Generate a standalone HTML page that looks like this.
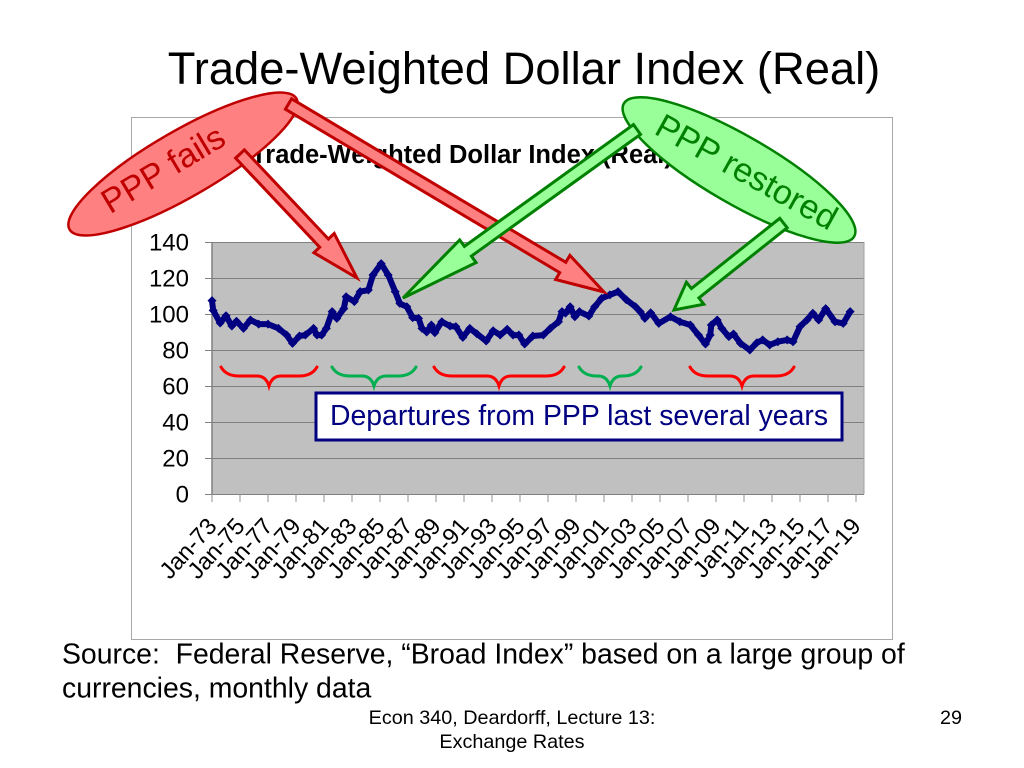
<!DOCTYPE html>
<html>
<head>
<meta charset="utf-8">
<title>Trade-Weighted Dollar Index (Real)</title>
<style>
html,body{margin:0;padding:0;background:#fff;}
svg{display:block;}
text{font-family:"Liberation Sans",sans-serif;}
</style>
</head>
<body>
<svg id="slide" width="1024" height="768" viewBox="0 0 1024 768">
  <text x="524" y="84" font-size="45.3" text-anchor="middle" fill="#000">Trade-Weighted Dollar Index (Real)</text>
  <rect x="131.5" y="117.5" width="761" height="522" fill="#fff" stroke="#a8a8a8"/>
  <text x="462" y="163" font-size="25.5" font-weight="bold" text-anchor="middle" fill="#000">Trade-Weighted Dollar Index (Real)</text>
  <g id="chart"></g>

  <g fill="none" stroke-width="3" stroke-linecap="round">
    <path id="brace-a" stroke="#ff0000"/>
    <path id="brace-b" stroke="#00b050"/>
    <path id="brace-c" stroke="#ff0000"/>
    <path id="brace-d" stroke="#00b050"/>
    <path id="brace-e" stroke="#ff0000"/>
  </g>

  <rect x="316" y="393" width="526" height="47" fill="#fff" stroke="#000080" stroke-width="3"/>
  <text x="579" y="425" font-size="28.4" text-anchor="middle" fill="#000080">Departures from PPP last several years</text>

  <ellipse cx="183" cy="164" rx="131" ry="33" transform="rotate(-30 183 164)" fill="#ff8080" stroke="#c00000" stroke-width="2.5"/>
  <text x="169" y="179" font-size="34" text-anchor="middle" fill="#c00000" transform="rotate(-31 169 179)">PPP fails</text>
  <ellipse cx="739" cy="170" rx="133" ry="34" transform="rotate(30 739 170)" fill="#99ff99" stroke="#008000" stroke-width="2.5"/>
  <text x="741" y="182" font-size="34" text-anchor="middle" fill="#008000" transform="rotate(29 741 182)">PPP restored</text>

  <polygon id="arrow-red-1" fill="#ff8080" stroke="#c00000" stroke-width="3"/>
  <polygon id="arrow-red-2" fill="#ff8080" stroke="#c00000" stroke-width="3"/>
  <polygon id="arrow-green-1" fill="#99ff99" stroke="#008000" stroke-width="3"/>
  <polygon id="arrow-green-2" fill="#99ff99" stroke="#008000" stroke-width="3"/>

  <text x="62" y="663.5" font-size="28.4" fill="#000" style="white-space:pre">Source:  Federal Reserve, “Broad Index” based on a large group of</text>
  <text x="62" y="697.5" font-size="28.4" fill="#000">currencies, monthly data</text>
  <text x="512" y="724" font-size="19.8" text-anchor="middle" fill="#000">Econ 340, Deardorff, Lecture 13:</text>
  <text x="512" y="748" font-size="19.8" text-anchor="middle" fill="#000">Exchange Rates</text>
  <text x="951" y="724" font-size="19.8" text-anchor="middle" fill="#000">29</text>
</svg>
<script>
var yTicks = [0, 20, 40, 60, 80, 100, 120, 140];
var xTickLabels = ["Jan-73","Jan-75","Jan-77","Jan-79","Jan-81","Jan-83","Jan-85","Jan-87","Jan-89","Jan-91","Jan-93","Jan-95","Jan-97","Jan-99","Jan-01","Jan-03","Jan-05","Jan-07","Jan-09","Jan-11","Jan-13","Jan-15","Jan-17","Jan-19"];
var monthsSince1973 = [0,1,7,12,17,21,27,33,40,48,57,64,69,75,80,87,90,94,98,103,107,113,115,122,127,134,138,145,151,157,161,167,172,177,180,184,188,191,197,204,209,215,221,227,235,241,247,253,258,263,268,275,284,290,297,300,303,307,311,315,323,328,334,341,348,355,363,367,371,376,383,393,401,410,417,423,427,428,433,437,443,447,453,461,467,472,478,485,493,498,504,510,515,520,526,534,541,547];
var indexValues = [107.4,102,95,99,93.3,96,92,96.7,94.4,94.4,92,88.3,83.7,87.8,88.3,92,88.3,88.3,92,101.3,97.6,103,109.6,106.9,112.4,113.3,121.7,128,121.7,112.4,105.9,104,98,97.6,92,90,93.9,89.6,95.7,93.3,93,87,92,89,85,90.7,88.3,91.5,88.3,88.3,83.3,87.8,88.3,92,95.7,101.3,100.5,104,98.5,101.3,98.9,104,108.7,110.6,112.4,108,104,101.3,97.6,100.7,94.8,98.5,95.7,93.9,88.3,83.3,88.3,93.9,96.7,92,87.4,88.9,83.7,80,84,85.6,82.8,84.6,85.6,84.6,93,96.7,100.4,96.7,103,95.7,94.8,101.3];

var NS = "http://www.w3.org/2000/svg";
var chart = document.getElementById("chart");
var plotLeft = 212, plotRight = 864, plotTop = 242, plotBottom = 494;
function xScale(month){ return plotLeft + month * (644 / 552); }
function yScale(v){ return plotBottom - v * (plotBottom - plotTop) / 140; }

var plotBg = document.createElementNS(NS, "rect");


plotBg.setAttribute("x", plotLeft);
plotBg.setAttribute("y", plotTop);
plotBg.setAttribute("width", plotRight - plotLeft);
plotBg.setAttribute("height", plotBottom - plotTop);
plotBg.setAttribute("fill", "#c0c0c0");
chart.appendChild(plotBg);

yTicks.forEach(function(t){
  var yy = Math.round(yScale(t)) + 0.5;
  var grid = document.createElementNS(NS, "line");
  
  
  grid.setAttribute("x1", 205);
  grid.setAttribute("x2", plotRight);
  grid.setAttribute("y1", yy);
  grid.setAttribute("y2", yy);
  grid.setAttribute("stroke", "#808080");
  chart.appendChild(grid);
  var label = document.createElementNS(NS, "text");
  
  
  label.setAttribute("x", 189);
  label.setAttribute("y", yy + 8);
  label.setAttribute("font-size", "24");
  label.setAttribute("text-anchor", "end");
  label.textContent = t;
  chart.appendChild(label);
});

var yAxis = document.createElementNS(NS, "line");


yAxis.setAttribute("x1", plotLeft);
yAxis.setAttribute("x2", plotLeft);
yAxis.setAttribute("y1", plotTop);
yAxis.setAttribute("y2", plotBottom);
yAxis.setAttribute("stroke", "#808080");
yAxis.setAttribute("stroke-width", "1.5");
chart.appendChild(yAxis);

var rightEdge = document.createElementNS(NS, "line");


rightEdge.setAttribute("x1", plotRight);
rightEdge.setAttribute("x2", plotRight);
rightEdge.setAttribute("y1", plotTop);
rightEdge.setAttribute("y2", plotBottom);
rightEdge.setAttribute("stroke", "#a0a0a0");
chart.appendChild(rightEdge);

xTickLabels.forEach(function(name, i){
  var xx = xScale(i * 24);
  var tick = document.createElementNS(NS, "line");
  
  
  tick.setAttribute("x1", xx);
  tick.setAttribute("x2", xx);
  tick.setAttribute("y1", plotBottom);
  tick.setAttribute("y2", 502);
  tick.setAttribute("stroke", "#909090");
  chart.appendChild(tick);
  var label = document.createElementNS(NS, "text");
  
  
  var ax = xx + 6, ay = 527;
  label.setAttribute("x", ax);
  label.setAttribute("y", ay);
  label.setAttribute("font-size", "23.5");
  label.setAttribute("text-anchor", "end");
  label.setAttribute("transform", "rotate(-48 " + ax + " " + ay + ")");
  label.textContent = name;
  chart.appendChild(label);
});

var pts = monthsSince1973.map(function(m, i){
  return xScale(m).toFixed(1) + "," + yScale(indexValues[i]).toFixed(1);
}).join(" ");
var line = document.createElementNS(NS, "polyline");


line.setAttribute("points", pts);
line.setAttribute("fill", "none");
line.setAttribute("stroke", "#000080");
line.setAttribute("stroke-width", "6");
line.setAttribute("stroke-linejoin", "round");
chart.appendChild(line);

monthsSince1973.forEach(function(m, i){
  var cx = xScale(m), cy = yScale(indexValues[i]), r = 4.5;
  var d = document.createElementNS(NS, "polygon");
  
  
  d.setAttribute("points", cx + "," + (cy - r) + " " + (cx + r) + "," + cy + " " + cx + "," + (cy + r) + " " + (cx - r) + "," + cy);
  d.setAttribute("fill", "#000080");
  chart.appendChild(d);
});

function brace(id, l, c, r){
  var top = 367, mid = 376, tip = 386;
  var d = "M" + l + " " + top + " Q" + (l + 5) + " " + mid + " " + (l + 18) + " " + mid +
    " L" + (c - 12) + " " + mid + " Q" + (c - 3) + " " + mid + " " + c + " " + tip +
    " Q" + (c + 3) + " " + mid + " " + (c + 12) + " " + mid +
    " L" + (r - 18) + " " + mid + " Q" + (r - 5) + " " + mid + " " + r + " " + top;
  document.getElementById(id).setAttribute("d", d);
}
brace("brace-a", 221, 269, 317);
brace("brace-b", 332, 374, 416);
brace("brace-c", 434, 499, 564);
brace("brace-d", 579, 610, 641);
brace("brace-e", 690, 742, 794);

function arrow(id, sx, sy, tx, ty, shaftHalf, headHalf, headLen){
  var dx = tx - sx, dy = ty - sy, len = Math.sqrt(dx * dx + dy * dy);
  var ux = dx / len, uy = dy / len, px = -uy, py = ux;
  var bx = tx - ux * headLen, by = ty - uy * headLen;
  var p = [
    [sx + px * shaftHalf, sy + py * shaftHalf],
    [bx + px * shaftHalf, by + py * shaftHalf],
    [bx + px * headHalf, by + py * headHalf],
    [tx, ty],
    [bx - px * headHalf, by - py * headHalf],
    [bx - px * shaftHalf, by - py * shaftHalf],
    [sx - px * shaftHalf, sy - py * shaftHalf]
  ];
  document.getElementById(id).setAttribute("points", p.map(function(q){ return q[0].toFixed(1) + "," + q[1].toFixed(1); }).join(" "));
}
arrow("arrow-red-1", 240, 154, 357, 278, 6, 14, 48);
arrow("arrow-red-2", 288.5, 104, 604, 292, 6, 14, 48);
arrow("arrow-green-1", 637, 129.5, 403, 298, 6, 14, 80);
arrow("arrow-green-2", 783.5, 223, 674, 310, 6, 14, 27);
</script>
</body>
</html>
